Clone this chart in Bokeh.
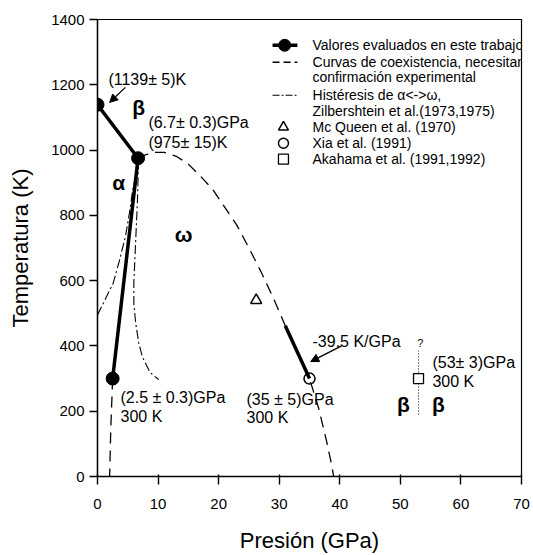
from bokeh.plotting import figure
from bokeh.models import Range1d, Arrow, NormalHead, FixedTicker
from bokeh.core.properties import value
from bokeh.embed import file_html
from bokeh.resources import INLINE

# ---- data ----
eval_p = [0.0, 6.7, 2.5]
eval_T = [1139, 975, 300]
slope_p = [31.0, 35.0]
slope_T = [462, 300]

coex_p = [6.7, 8.0, 9.5, 11.0, 13.0, 15.0, 17.0, 19.0, 21.0, 23.0, 25.0, 27.0, 29.0, 31.0, 33.0, 35.0, 36.5, 37.8, 38.6, 39.0]
coex_T = [975, 986, 993, 993, 981, 957, 920, 880, 825, 770, 700, 627, 548, 462, 383, 300, 210, 110, 40, 0]
coex_low_p = [2.5, 2.2, 2.0]
coex_low_T = [300, 150, 0]

hyst_left_p = [0.0, 1.2, 2.6, 3.6, 4.6, 5.3, 5.8, 6.4, 6.8]
hyst_left_T = [495, 540, 593, 660, 734, 810, 877, 930, 969]
hyst_right_p = [6.8, 6.7, 6.6, 6.3, 6.0, 6.0, 6.3, 6.8, 7.4, 8.7, 10.1]
hyst_right_T = [969, 920, 847, 720, 593, 530, 471, 410, 367, 318, 297]

mcqueen_p, mcqueen_T = [26.2], [540]
xia_p, xia_T = [35.0], [300]
akahama_p, akahama_T = [53.0], [300]
akahama_range_p = [53.0, 53.0]
akahama_range_T = [190, 385]

x_ticks = [0, 10, 20, 30, 40, 50, 60, 70]
y_ticks = [0, 200, 400, 600, 800, 1000, 1200, 1400]

legend_labels = [
    "Valores evaluados en este trabajo",
    "Curvas de coexistencia, necesitan",
    "confirmación experimental",
    "Histéresis de α<->ω,",
    "Zilbershtein et al.(1973,1975)",
    "Mc Queen et al. (1970)",
    "Xia et al. (1991)",
    "Akahama et al. (1991,1992)",
]
legend_T = [1321, 1269, 1223, 1168, 1119, 1070, 1021, 972]

FONT = value("Liberation Sans")

p = figure(width=533, height=555, x_range=Range1d(0, 70), y_range=Range1d(0, 1400),
           output_backend="svg", toolbar_location=None,
           min_border_left=97, min_border_right=12, min_border_top=19, min_border_bottom=78)
p.background_fill_color = "white"
p.border_fill_color = "white"
p.outline_line_color = "black"
p.outline_line_width = 1.2
p.xgrid.visible = False
p.ygrid.visible = False

for ax in (p.xaxis[0], p.yaxis[0]):
    ax.axis_line_width = 1.4
    ax.major_tick_line_width = 1.4
    ax.minor_tick_line_color = None
    ax.major_label_text_font = "Liberation Sans"
    ax.major_label_text_font_size = "15px"
    ax.major_label_text_color = "black"
    ax.axis_label_text_font = "Liberation Sans"
    ax.axis_label_text_font_size = "22px"
    ax.axis_label_text_font_style = "normal"
    ax.axis_label_text_color = "black"

p.xaxis.ticker = FixedTicker(ticks=x_ticks)
p.yaxis.ticker = FixedTicker(ticks=y_ticks)
p.xaxis.major_tick_out = 8
p.xaxis.major_tick_in = 2
p.yaxis.major_tick_out = 8
p.yaxis.major_tick_in = 0
p.xaxis.major_label_standoff = 14
p.yaxis.major_label_standoff = 5
p.xaxis.axis_label = "Presión (GPa)"
p.yaxis.axis_label = "Temperatura (K)"
p.xaxis.axis_label_standoff = 16
p.yaxis.axis_label_standoff = 15

# curves
p.line(coex_p, coex_T, line_color="black", line_width=1.3, line_dash="11 7")
p.line(coex_low_p, coex_low_T, line_color="black", line_width=1.3, line_dash="11 7")
p.line(hyst_left_p, hyst_left_T, line_color="black", line_width=1.1, line_dash="9 3 2 3")
p.line(hyst_right_p, hyst_right_T, line_color="black", line_width=1.1, line_dash="9 3 2 3")
p.line(akahama_range_p, akahama_range_T, line_color="black", line_width=1.0, line_dash="1 2")

p.line(eval_p, eval_T, line_color="black", line_width=3.5)
p.line(slope_p, slope_T, line_color="black", line_width=3.5)
p.scatter(eval_p, eval_T, marker="circle", size=13, fill_color="black", line_color="black")

p.scatter(mcqueen_p, mcqueen_T, marker="triangle", size=11, fill_color="white", line_color="black", line_width=1.5)
p.scatter(xia_p, xia_T, marker="circle", size=11, fill_color=None, line_color="black", line_width=1.5)
p.scatter(akahama_p, akahama_T, marker="square", size=10, fill_color="white", line_color="black", line_width=1.3)

# arrows
p.add_layout(Arrow(x_start=4.6, y_start=1192, x_end=2.0, y_end=1146, line_width=1.3,
                   end=NormalHead(size=8, fill_color="black", line_color="black")))
p.add_layout(Arrow(x_start=40.3, y_start=400, x_end=35.2, y_end=352, line_width=1.3,
                   end=NormalHead(size=8, fill_color="black", line_color="black")))

# annotations
ann_x = [1.8, 8.4, 8.4, 3.8, 3.8, 24.6, 24.6, 35.5, 55.3, 55.3]
ann_T = [1215, 1083, 1024, 242, 184, 235, 180, 415, 349, 290]
ann_txt = ["(1139± 5)K", "(6.7± 0.3)GPa", "(975± 15)K", "(2.5 ± 0.3)GPa", "300 K",
           "(35 ± 5)GPa", "300 K", "-39.5 K/GPa", "(53± 3)GPa", "300 K"]
p.text(ann_x, ann_T, text=ann_txt, text_font=FONT, text_font_size="16px",
       text_align="left", text_baseline="middle", text_color="black")
p.text([53.3], [410], text=["?"], text_font=FONT, text_font_size="11px",
       text_align="center", text_baseline="middle", text_color="black")

greek_x = [6.8, 3.5, 14.2, 50.5, 56.3]
greek_T = [1131, 900, 740, 220, 220]
greek_txt = ["β", "α", "ω", "β", "β"]
p.text(greek_x, greek_T, text=greek_txt, text_font=FONT, text_font_size="21px",
       text_font_style="bold", text_align="center", text_baseline="middle", text_color="black")

# legend (drawn by hand, as in the original)
p.text([35.5] * len(legend_labels), legend_T, text=legend_labels, text_font=FONT,
       text_font_size="14px", text_align="left", text_baseline="middle", text_color="black")
p.line([28.9, 33.0], [legend_T[0]] * 2, line_color="black", line_width=3.5)
p.scatter([30.9], [legend_T[0]], marker="circle", size=12, fill_color="black", line_color="black")
p.line([28.9, 33.0], [legend_T[1]] * 2, line_color="black", line_width=1.3, line_dash="7 4")
p.line([28.9, 33.0], [legend_T[3]] * 2, line_color="black", line_width=1.1, line_dash="7 2 2 2")
p.scatter([30.7], [legend_T[5]], marker="triangle", size=10, fill_color="white", line_color="black", line_width=1.5)
p.scatter([30.7], [legend_T[6]], marker="circle", size=10, fill_color=None, line_color="black", line_width=1.5)
p.scatter([30.7], [legend_T[7]], marker="square", size=10, fill_color="white", line_color="black", line_width=1.3)

open("out.html", "w").write(file_html(p, INLINE))
